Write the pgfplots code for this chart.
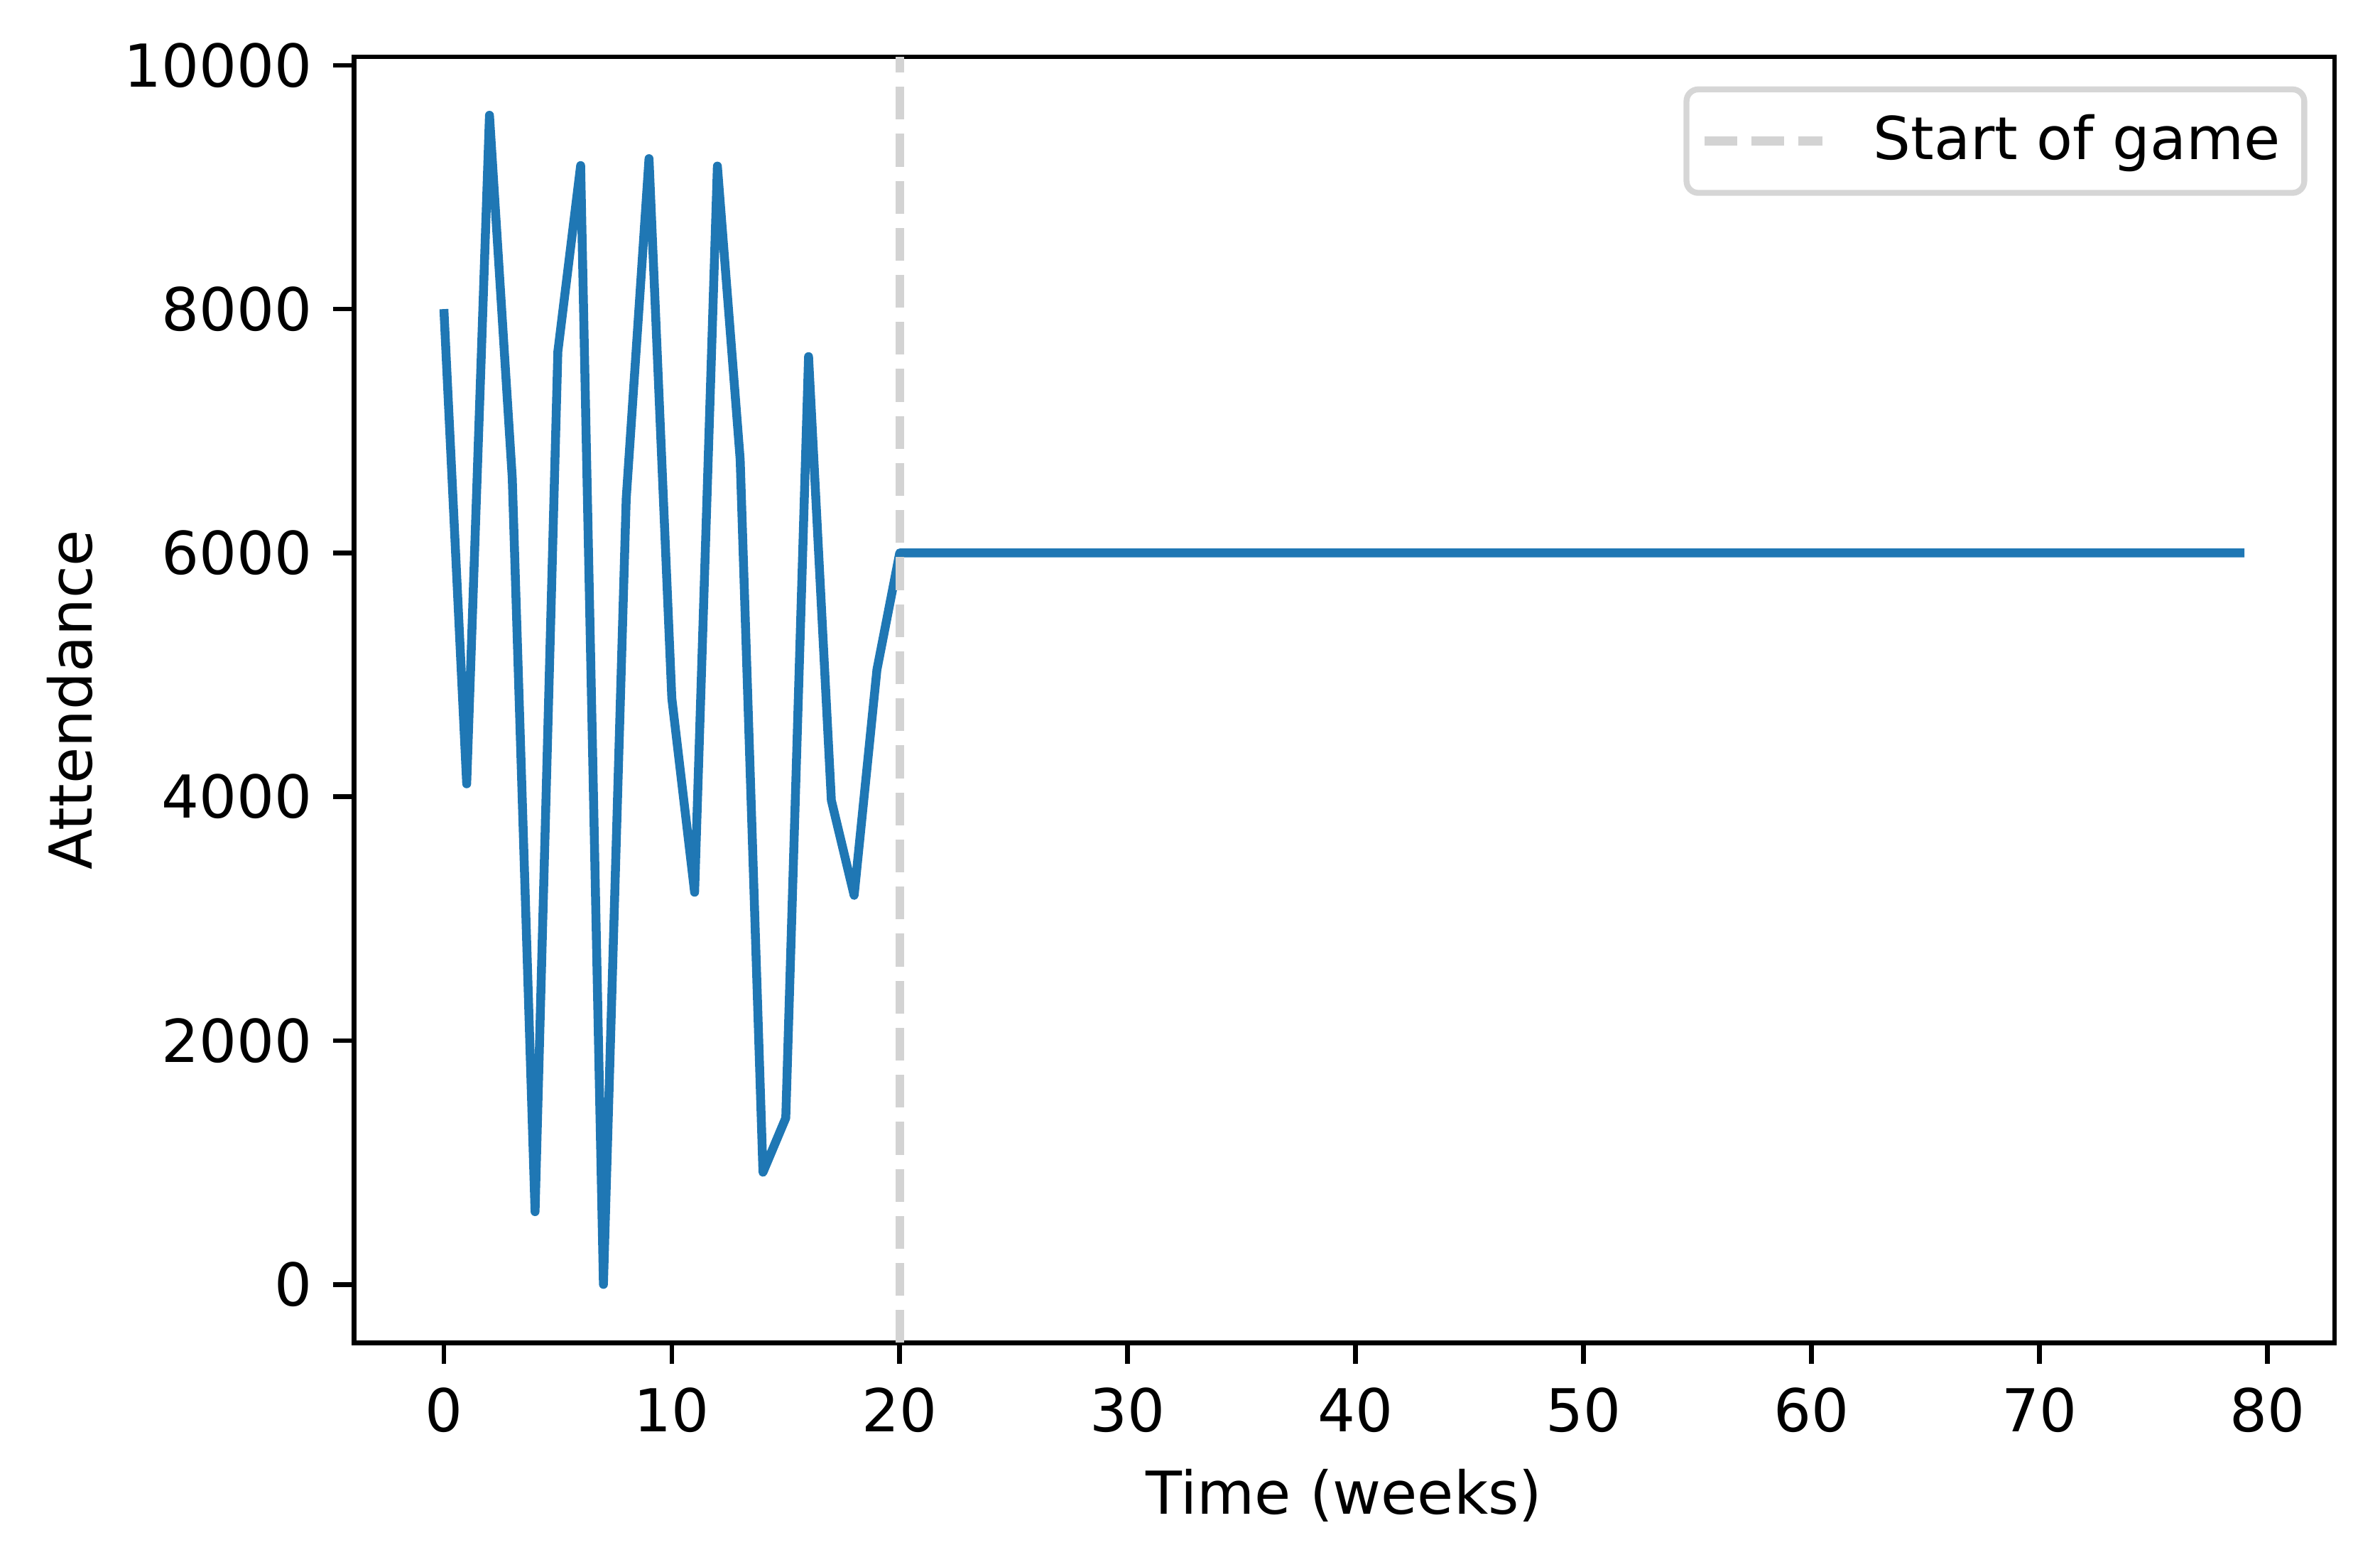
\documentclass[border=0pt]{standalone}
\usepackage{fontspec}
\setmainfont{DejaVu Sans}
\usepackage{pgfplots}
\pgfplotsset{compat=1.18}
\definecolor{mplblue}{HTML}{1F77B4}
\definecolor{vline}{HTML}{D3D3D3}
\definecolor{legframe}{HTML}{D6D6D6}
\begin{document}
\begin{tikzpicture}
\begin{axis}[
  scale only axis,
  width=334.7pt, height=217.3pt,
  xmin=-3.95, xmax=82.95,
  ymin=-479.5, ymax=10069.5,
  xtick={0,10,20,30,40,50,60,70,80},
  ytick={0,2000,4000,6000,8000,10000},
  scaled y ticks=false,
  /pgf/number format/assume math mode=true,
  /pgf/number format/set thousands separator={},
  tick align=outside,
  tick pos=left,
  major tick length=3.5pt,
  every tick/.style={black, line width=0.8pt},
  axis line style={line width=0.8pt},
  xticklabel style={yshift=-0.5pt},
  xlabel={Time (weeks)},
  ylabel={Attendance},
  xlabel style={at={(axis description cs:0.5,0)}, anchor=center, yshift=-25.8pt},
  ylabel style={at={(axis description cs:0,0.5)}, anchor=center, yshift=48pt},
  legend style={at={(axis cs:82.95,10069.5)}, anchor=north east, xshift=-4.6pt, yshift=-5pt,
    draw=legframe, line width=1pt, rounded corners=2pt, inner xsep=2pt, inner ysep=2.2pt,
    font=\fontsize{10}{12}\selectfont},
  legend cell align=left,
  legend image code/.code={\path[draw=none,fill=none] (-1pt,0pt) -- (26.6pt,0pt); \draw[#1] (0pt,0pt) -- (20pt,0pt);},
]
\addplot[mplblue, line width=1.5pt, line join=round, forget plot] coordinates {
(0,8000) (1,4106) (2,9590) (3,6614) (4,597) (5,7651) (6,9177) (7,0) (8,6446) (9,9234)
(10,4809) (11,3217) (12,9173) (13,6766) (14,920) (15,1365) (16,7610) (17,3971) (18,3191) (19,5042)
(20,6000) (21,6000) (22,6000) (23,6000) (24,6000) (25,6000) (26,6000) (27,6000) (28,6000) (29,6000)
(30,6000) (31,6000) (32,6000) (33,6000) (34,6000) (35,6000) (36,6000) (37,6000) (38,6000) (39,6000)
(40,6000) (41,6000) (42,6000) (43,6000) (44,6000) (45,6000) (46,6000) (47,6000) (48,6000) (49,6000)
(50,6000) (51,6000) (52,6000) (53,6000) (54,6000) (55,6000) (56,6000) (57,6000) (58,6000) (59,6000)
(60,6000) (61,6000) (62,6000) (63,6000) (64,6000) (65,6000) (66,6000) (67,6000) (68,6000) (69,6000)
(70,6000) (71,6000) (72,6000) (73,6000) (74,6000) (75,6000) (76,6000) (77,6000) (78,6000) (79,6000)
};
\addplot[vline, line width=1.5pt, dash pattern=on 5.55pt off 2.4pt] coordinates {(20,-479.5) (20,10069.5)};
\addlegendentry{Start of game}
\end{axis}
\pgfresetboundingbox
\path[use as bounding box] ([xshift=-59.8pt,yshift=-37.8pt]current axis.south west) rectangle ([xshift=7.7pt,yshift=9.6pt]current axis.north east);
\end{tikzpicture}
\end{document}
